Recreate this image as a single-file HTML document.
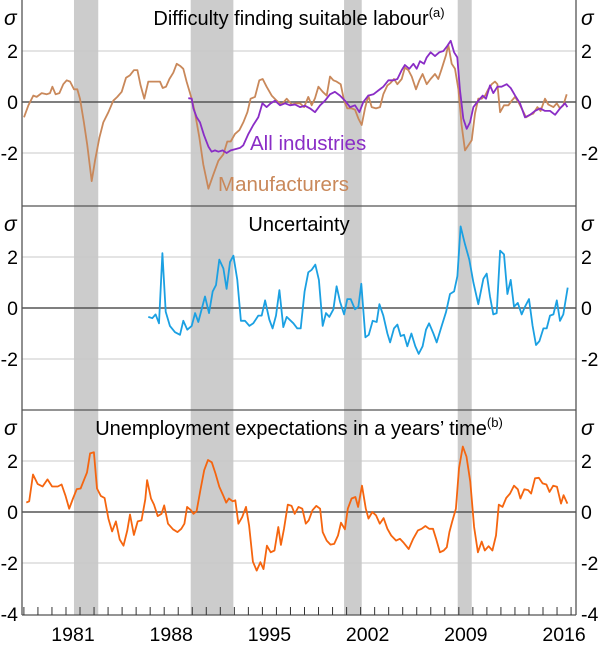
<!DOCTYPE html>
<html><head><meta charset="utf-8">
<style>
html,body{margin:0;padding:0;background:#fff;}
svg text{font-family:"Liberation Sans",Arial,sans-serif;}
</style></head>
<body>
<svg id="chart" width="600" height="646" xmlns="http://www.w3.org/2000/svg"></svg>
<script>
// ---- data ----
const recessionStarts = [1981.07, 1989.39, 2000.32, 2008.42];
const recessionEnds   = [1982.80, 1992.43, 2001.58, 2009.42];
const yTicks = [2, 0, -2];
const xTickLabels = [1981, 1988, 1995, 2002, 2009, 2016];

const manuYears = [1977.51,1977.82,1978.17,1978.41,1978.77,1979.12,1979.36,1979.53,1979.76,1980.03,1980.31,1980.55,1980.79,1981.07,1981.31,1981.50,1981.78,1982.02,1982.33,1982.57,1982.88,1983.16,1983.52,1983.87,1984.16,1984.47,1984.78,1985.06,1985.35,1985.59,1985.82,1986.08,1986.37,1986.68,1986.96,1987.20,1987.39,1987.63,1987.87,1988.15,1988.39,1988.67,1988.86,1989.10,1989.46,1989.70,1990.01,1990.29,1990.65,1991.00,1991.36,1991.72,1992.00,1992.24,1992.55,1992.86,1993.14,1993.43,1993.66,1993.97,1994.28,1994.52,1994.80,1995.16,1995.52,1995.87,1996.23,1996.59,1996.94,1997.18,1997.47,1997.77,1998.01,1998.25,1998.49,1998.80,1999.08,1999.32,1999.56,1999.79,2000.08,2000.32,2000.55,2000.86,2001.10,2001.34,2001.58,2001.81,2002.05,2002.29,2002.60,2002.88,2003.12,2003.41,2003.64,2003.88,2004.12,2004.43,2004.66,2004.90,2005.14,2005.45,2005.69,2005.92,2006.21,2006.49,2006.80,2007.04,2007.28,2007.59,2007.75,2007.99,2008.23,2008.47,2008.70,2008.94,2009.18,2009.42,2009.65,2009.89,2010.13,2010.37,2010.60,2010.84,2011.08,2011.25,2011.44,2011.72,2012.03,2012.27,2012.51,2012.74,2012.98,2013.29,2013.57,2013.81,2014.10,2014.33,2014.64,2014.88,2015.24,2015.48,2015.71,2015.95,2016.19];
const manuValues = [-0.6,-0.13,0.25,0.2,0.35,0.3,0.35,0.6,0.3,0.35,0.7,0.85,0.8,0.5,0.5,0.13,-0.8,-1.7,-3.1,-2.3,-1.4,-0.8,-0.4,0.05,0.2,0.4,0.95,1.05,1.25,1.25,0.65,0.13,0.8,0.8,0.8,0.8,0.55,0.6,0.9,1.15,1.5,1.4,1.3,0.8,0.13,-0.45,-1.4,-2.45,-3.4,-2.85,-2.3,-2.05,-1.55,-1.55,-1.25,-1.1,-0.8,-0.4,0.13,0.2,0.85,0.9,0.6,0.25,0.05,-0.1,0.13,-0.1,-0.05,-0.05,-0.2,0.2,-0.13,0.15,0.6,0.4,0.25,1.0,0.85,0.8,0.7,0.05,-0.25,-0.25,-0.3,-0.65,-0.9,-0.25,0.25,-0.2,-0.25,-0.2,0.3,0.65,0.75,0.9,0.7,0.9,1.35,1.25,1.0,0.5,0.85,1.1,0.7,0.9,1.1,0.9,1.3,1.85,2.25,1.5,1.3,0.5,-0.9,-1.9,-1.7,-1.5,-0.45,0.13,0.13,0.25,0.5,0.7,0.8,0.7,-0.4,-0.13,-0.13,0.05,0.2,0,-0.25,-0.6,-0.5,-0.45,-0.2,-0.35,0.13,-0.1,-0.2,-0.05,-0.25,-0.13,0.3];

const allYears = [1989.22,1989.46,1989.58,1989.82,1990.05,1990.34,1990.65,1990.88,1991.12,1991.36,1991.67,1991.95,1992.24,1992.55,1992.90,1993.14,1993.50,1993.85,1994.21,1994.50,1994.80,1995.09,1995.40,1995.76,1996.11,1996.47,1996.82,1997.18,1997.54,1997.89,1998.25,1998.61,1998.96,1999.32,1999.67,2000.03,2000.39,2000.74,2001.10,2001.41,2001.69,2002.05,2002.41,2002.76,2003.12,2003.48,2003.83,2004.12,2004.43,2004.66,2004.97,2005.26,2005.50,2005.73,2006.02,2006.21,2006.49,2006.80,2007.11,2007.40,2007.68,2007.92,2008.16,2008.39,2008.58,2008.82,2009.06,2009.30,2009.54,2009.89,2010.20,2010.44,2010.72,2010.96,2011.25,2011.55,2011.91,2012.20,2012.51,2012.86,2013.22,2013.57,2013.93,2014.29,2014.64,2015.00,2015.36,2015.71,2016.07,2016.24];
const allValues = [0.15,0.13,-0.25,-0.6,-0.8,-1.3,-1.75,-1.95,-1.9,-1.95,-1.9,-2.0,-1.9,-1.85,-1.8,-1.7,-1.25,-0.9,-0.6,-0.05,-0.2,-0.05,0.05,-0.13,-0.05,-0.13,-0.1,-0.2,-0.15,-0.25,-0.4,-0.13,0.05,0.3,0.4,0.25,0.05,-0.2,-0.13,-0.4,0,0.25,0.3,0.45,0.6,0.85,0.85,0.9,1.25,1.45,1.3,1.5,1.3,1.6,1.5,1.75,1.95,1.8,1.95,2.0,2.2,2.4,1.95,1.75,0.5,-0.65,-1.05,-0.8,-0.2,0.05,0.25,0.13,0.65,0.35,0.6,0.6,0.7,0.55,0.25,-0.05,-0.6,-0.5,-0.35,-0.25,-0.35,-0.35,-0.5,-0.25,-0.05,-0.2];

const uncYears = [1986.37,1986.65,1986.89,1987.13,1987.37,1987.61,1987.91,1988.27,1988.63,1988.86,1989.15,1989.46,1989.70,1989.93,1990.41,1990.69,1990.96,1991.19,1991.43,1991.72,1991.95,1992.19,1992.43,1992.71,1992.97,1993.26,1993.57,1993.85,1994.21,1994.45,1994.69,1994.99,1995.23,1995.47,1995.71,1995.99,1996.23,1996.71,1996.99,1997.23,1997.51,1997.77,1998.01,1998.27,1998.53,1998.80,1999.03,1999.27,1999.56,1999.79,2000.03,2000.32,2000.55,2000.79,2001.10,2001.34,2001.55,2001.84,2002.08,2002.36,2002.65,2002.84,2003.12,2003.41,2003.60,2003.88,2004.12,2004.36,2004.59,2004.83,2005.12,2005.40,2005.64,2005.92,2006.16,2006.38,2006.69,2006.92,2007.28,2007.59,2007.87,2008.16,2008.40,2008.63,2008.94,2009.25,2009.54,2009.89,2010.25,2010.49,2010.72,2010.96,2011.20,2011.44,2011.72,2011.96,2012.20,2012.43,2012.70,2012.98,2013.22,2013.50,2013.76,2014.00,2014.24,2014.53,2014.76,2015.00,2015.24,2015.48,2015.71,2015.95,2016.26];
const uncValues = [-0.35,-0.4,-0.25,-0.6,2.15,-0.15,-0.7,-0.95,-1.05,-0.5,-0.85,-0.7,-0.2,-0.55,0.45,-0.2,0.65,0.9,1.9,1.55,0.75,1.8,2.05,1.1,-0.5,-0.5,-0.7,-0.6,-0.3,-0.3,0.3,-0.45,-0.8,-0.3,0.7,-0.75,-0.35,-0.6,-0.8,-0.8,0.65,1.4,1.5,1.7,1.1,-0.7,-0.2,-0.35,-0.05,0.85,0.25,-0.25,0.35,0.35,-0.05,0.05,0.95,-1.15,-1.05,-0.5,-0.55,0.15,-0.3,-1.0,-1.35,-0.8,-0.65,-1.1,-1.05,-1.5,-1.0,-1.5,-1.8,-1.5,-0.85,-0.6,-1.0,-1.35,-0.7,-0.15,0.55,0.65,1.25,3.2,2.5,1.9,1.0,0.15,1.15,1.35,0.45,-0.25,-0.2,2.25,2.1,0.55,1.1,0.05,0.2,-0.25,0.05,0.35,-0.7,-1.45,-1.3,-0.8,-0.8,-0.3,-0.25,0.3,-0.5,-0.25,0.8];

const unemYears = [1977.67,1977.88,1978.15,1978.48,1978.83,1979.18,1979.51,1979.92,1980.19,1980.46,1980.73,1981.00,1981.27,1981.54,1981.81,1982.00,1982.22,1982.49,1982.71,1982.98,1983.25,1983.52,1983.79,1984.06,1984.33,1984.60,1984.87,1985.06,1985.34,1985.61,1985.88,1986.15,1986.28,1986.56,1986.77,1987.04,1987.31,1987.50,1987.77,1988.13,1988.45,1988.72,1988.94,1989.13,1989.40,1989.59,1989.81,1990.08,1990.35,1990.62,1990.89,1991.16,1991.43,1991.70,1991.92,1992.11,1992.38,1992.57,1992.79,1993.06,1993.33,1993.55,1993.82,1994.09,1994.36,1994.58,1994.82,1995.09,1995.36,1995.63,1995.82,1996.04,1996.31,1996.58,1996.80,1997.07,1997.34,1997.59,1997.80,1998.07,1998.34,1998.61,1998.80,1999.08,1999.35,1999.62,1999.89,2000.10,2000.38,2000.59,2000.86,2001.13,2001.32,2001.60,2001.87,2002.06,2002.33,2002.60,2002.87,2003.14,2003.41,2003.68,2004.03,2004.30,2004.58,2004.93,2005.25,2005.58,2005.85,2006.12,2006.39,2006.66,2006.88,2007.15,2007.42,2007.64,2007.83,2008.02,2008.29,2008.51,2008.78,2009.05,2009.32,2009.59,2009.86,2010.13,2010.35,2010.62,2010.89,2011.15,2011.35,2011.61,2011.88,2012.15,2012.43,2012.70,2012.89,2013.17,2013.44,2013.65,2013.93,2014.20,2014.47,2014.74,2014.96,2015.23,2015.50,2015.78,2015.97,2016.24];
const unemValues = [0.37,0.42,1.47,1.1,1.0,1.28,1.0,1.0,1.08,0.65,0.13,0.53,0.9,0.92,1.3,1.55,2.3,2.34,0.92,0.63,0.55,-0.26,-0.76,-0.37,-1.08,-1.32,-0.72,-0.1,-0.9,-0.37,-0.33,0.5,1.25,0.53,0.29,-0.16,-0.07,0.26,-0.46,-0.68,-0.79,-0.66,-0.46,0.2,0.07,-0.07,0.03,0.86,1.64,2.04,1.95,1.51,0.99,0.66,0.37,0.53,0.42,0.46,-0.46,-0.2,0.2,-0.53,-1.95,-2.3,-1.97,-2.24,-1.32,-1.58,-1.51,-0.59,-1.29,-0.66,0.29,0.24,-0.07,0.2,0.13,-0.46,-0.33,0.07,0.24,0.13,-0.79,-1.12,-1.28,-1.25,-0.92,-0.42,-0.68,0.13,0.53,0.59,0.2,1.03,0.13,-0.26,0,-0.13,-0.46,-0.24,-0.66,-0.92,-1.12,-1.05,-1.21,-1.45,-1.05,-0.72,-0.66,-0.55,-0.66,-0.66,-1.05,-1.58,-1.51,-1.38,-0.79,-0.39,0.13,1.71,2.57,2.17,1.18,-0.59,-1.58,-1.16,-1.51,-1.34,-1.51,-0.92,0.29,0.2,0.55,0.72,1.03,0.89,0.53,0.89,0.86,0.72,1.32,1.34,1.12,1.08,0.79,1.03,0.99,0.33,0.66,0.33];

// ---- layout ----
const NS = "http://www.w3.org/2000/svg";
const svg = document.getElementById('chart');
const L = 22, R = 576;
const panelTops = [0, 206, 410];
const PH = 204;
function xScale(t){ return 73 + (t - 1981) * 14.03; }
function yScale(p, v){ return panelTops[p] + PH/2 - v * 25.5; }
function mk(tag, attrs, parent){
  const e = document.createElementNS(NS, tag);
  for (const k in attrs) e.setAttribute(k, attrs[k]);
  (parent || svg).appendChild(e);
  return e;
}

for (let i = 0; i < recessionStarts.length; i++){
  const r = mk('rect', {x: xScale(recessionStarts[i]), y: 0, width: xScale(recessionEnds[i]) - xScale(recessionStarts[i]), height: 615, fill: '#cccccc'});
  
  
}

const panelTitles = ['Difficulty finding suitable labour', 'Uncertainty', 'Unemployment expectations in a years’ time'];
const panelSups = ['(a)', '', '(b)'];
const panelNames = ['labour-panel', 'uncertainty-panel', 'unemployment-panel'];
const FS = 19.5;

for (let p = 0; p < 3; p++){
  const g = mk('g', {});
  
  
  yTicks.forEach(v => {
    const ln = mk('line', {x1: L, x2: R, y1: yScale(p, v), y2: yScale(p, v), stroke: v === 0 ? '#555' : '#c8c8c8', 'stroke-width': v === 0 ? 1.5 : 1}, g);
    
    
    const tl = mk('text', {x: 18, y: yScale(p, v) + 7, 'text-anchor': 'end', 'font-size': FS, fill: '#000'}, g);
    tl.textContent = v;
    
    
    const tr = mk('text', {x: 581, y: yScale(p, v) + 7, 'text-anchor': 'start', 'font-size': FS, fill: '#000'}, g);
    tr.textContent = v;
    
    
  });
  const s1 = mk('text', {x: 4, y: panelTops[p] + 25, 'font-size': 21, 'font-style': 'italic', fill: '#000'}, g);
  s1.textContent = 'σ';
  
  
  const s2 = mk('text', {x: 581, y: panelTops[p] + 25, 'font-size': 21, 'font-style': 'italic', fill: '#000'}, g);
  s2.textContent = 'σ';
  
  
  const t = mk('text', {x: 299, y: panelTops[p] + 25, 'text-anchor': 'middle', 'font-size': 20, fill: '#000'}, g);
  t.textContent = panelTitles[p];
  if (panelSups[p]){
    const sp = mk('tspan', {'font-size': 13, dy: -8}, t);
    sp.textContent = panelSups[p];
  }
  
  
}

['left','right'].forEach((side, i) => {
  const tl = mk('text', {x: i ? 581 : 18, y: yScale(2, -4) + 7, 'text-anchor': i ? 'start' : 'end', 'font-size': FS, fill: '#000'});
  tl.textContent = '-4';
  
  
});

function drawLine(p, xs, ys, color, name){
  const d = xs.map((t, i) => (i ? 'L' : 'M') + xScale(t).toFixed(1) + ',' + yScale(p, ys[i]).toFixed(1)).join('');
  const path = mk('path', {d: d, fill: 'none', stroke: color, 'stroke-width': 1.8, 'stroke-linejoin': 'round'});
  
  
}
drawLine(0, manuYears, manuValues, '#c9885a', 'manufacturers-line');
drawLine(0, allYears, allValues, '#8a2dc6', 'all-industries-line');
drawLine(1, uncYears, uncValues, '#1ba0e2', 'uncertainty-line');
drawLine(2, unemYears, unemValues, '#f5650f', 'unemployment-line');

const lab1 = mk('text', {x: 250, y: 150, 'font-size': 20.5, fill: '#8a2dc6'});
lab1.textContent = 'All industries';


const lab2 = mk('text', {x: 218, y: 191, 'font-size': 20.5, fill: '#c9885a'});
lab2.textContent = 'Manufacturers';



[206, 410, 615].forEach(y => {
  const ln = mk('line', {x1: L, x2: R, y1: y, y2: y, stroke: '#555', 'stroke-width': 1.3});
  
  
});
[L, R].forEach(x => {
  const ln = mk('line', {x1: x, x2: x, y1: 0, y2: 615, stroke: '#555', 'stroke-width': 1.3});
  
  
});

for (let yr = 1977; yr <= 2016; yr++){
  const x = xScale(yr + 0.5);
  if (x < L || x > R) continue;
  const tk = mk('line', {x1: x, x2: x, y1: 607, y2: 615, stroke: '#333', 'stroke-width': 1});
  
  
}
xTickLabels.forEach(yr => {
  const tx = mk('text', {x: xScale(yr), y: 641, 'text-anchor': 'middle', 'font-size': FS, fill: '#000'});
  tx.textContent = yr;
  
  
});
</script>
</body></html>
